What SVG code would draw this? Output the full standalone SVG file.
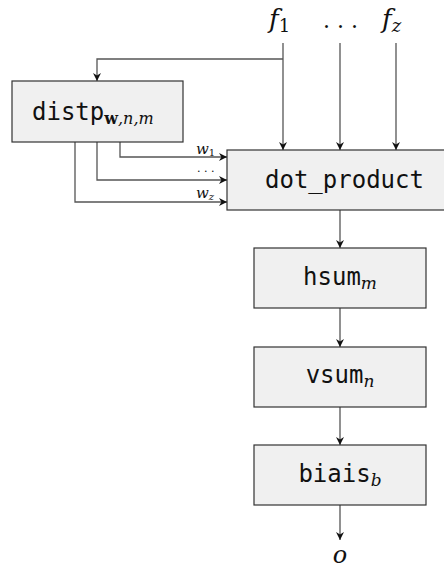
<svg xmlns="http://www.w3.org/2000/svg" width="444" height="572" viewBox="0 0 444 572">
<style>
.box{fill:#f0f0f0;stroke:#333;stroke-width:1.2}
.mono{font-family:"DejaVu Sans Mono",monospace;font-size:24px;fill:#111}
.math{font-family:"DejaVu Serif","Liberation Serif",serif;font-style:italic;fill:#111}
.rm{font-family:"DejaVu Serif","Liberation Serif",serif;fill:#111}
.ln{fill:none;stroke:#555;stroke-width:1.3}
</style>
<defs>
<marker id="ah" viewBox="0 0 10 10" refX="10" refY="5" markerWidth="8" markerHeight="8" markerUnits="userSpaceOnUse" orient="auto">
<path d="M0,0 L10,5 L0,10 L3,5 z" fill="#111"/>
</marker>
</defs>
<g id="connectors">
<path class="ln" d="M283,43 V150" marker-end="url(#ah)"/>
<path class="ln" d="M340,43 V150" marker-end="url(#ah)"/>
<path class="ln" d="M396,43 V150" marker-end="url(#ah)"/>
<path class="ln" d="M283,59 H97 V81" marker-end="url(#ah)"/>
<path class="ln" d="M120,142 V157 H227" marker-end="url(#ah)"/>
<path class="ln" d="M97,142 V180 H227" marker-end="url(#ah)"/>
<path class="ln" d="M75,142 V202 H227" marker-end="url(#ah)"/>
<path class="ln" d="M340,210 V248" marker-end="url(#ah)"/>
<path class="ln" d="M340,308 V347" marker-end="url(#ah)"/>
<path class="ln" d="M340,407 V445" marker-end="url(#ah)"/>
<path class="ln" d="M340,505 V540" marker-end="url(#ah)"/>
<text class="math" x="196" y="154" font-size="15">w<tspan class="rm" font-style="normal" font-size="10" dy="2">1</tspan></text>
<text class="rm" x="197" y="172" font-size="11" fill="#555">. . .</text>
<text class="math" x="196" y="198" font-size="15">w<tspan font-size="10" dy="2">z</tspan></text>
</g>
<g id="inputs">
<text class="math" x="269" y="28" font-size="26">f<tspan class="rm" font-style="normal" font-size="18" dy="4">1</tspan></text>
<text class="rm" x="323" y="28" font-size="22">. . .</text>
<text class="math" x="382" y="28" font-size="26">f<tspan font-size="18" dy="4">z</tspan></text>
</g>
<g id="distp">
<rect class="box" x="12" y="81" width="171" height="61"/>
<text x="32" y="120"><tspan class="mono">distp</tspan><tspan class="rm" font-weight="bold" font-size="16" dy="4">w</tspan><tspan class="math" font-size="16">,n,m</tspan></text>
</g>
<g id="dot_product">
<rect class="box" x="227" y="150" width="218" height="60"/>
<text class="mono" x="265" y="188">dot_product</text>
</g>
<g id="hsum">
<rect class="box" x="254" y="248" width="172" height="60"/>
<text x="340" y="285" text-anchor="middle"><tspan class="mono">hsum</tspan><tspan class="math" font-size="17" dy="4">m</tspan></text>
</g>
<g id="vsum">
<rect class="box" x="254" y="347" width="172" height="60"/>
<text x="340" y="383" text-anchor="middle"><tspan class="mono">vsum</tspan><tspan class="math" font-size="17" dy="4">n</tspan></text>
</g>
<g id="biais">
<rect class="box" x="254" y="445" width="172" height="60"/>
<text x="340" y="482" text-anchor="middle"><tspan class="mono">biais</tspan><tspan class="math" font-size="17" dy="4">b</tspan></text>
</g>
<g id="output">
<text class="math" x="340" y="563" font-size="24" text-anchor="middle">o</text>
</g>
</svg>
